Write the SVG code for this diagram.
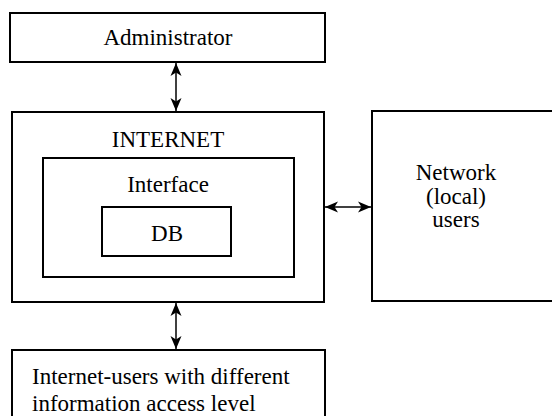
<svg xmlns="http://www.w3.org/2000/svg" width="552" height="416" viewBox="0 0 552 416">
  <style>
    .box { fill: #fff; stroke: #000; stroke-width: 2; }
    .link { stroke: #000; stroke-width: 1.5; fill: none; marker-start: url(#head); marker-end: url(#head); }
    text { font-family: 'Liberation Serif', 'Times New Roman', Times, 'DejaVu Serif', serif; font-size: 23px; fill: #000; }
  </style>
  <defs>
    <marker id="head" viewBox="0 0 13 12" refX="13" refY="6" markerWidth="13" markerHeight="12" markerUnits="userSpaceOnUse" orient="auto-start-reverse">
      <path d="M0,0.5 L13,6 L0,11.5 L3.5,6 Z" fill="#000"/>
    </marker>
  </defs>

  <rect width="552" height="416" fill="#fff"/>

  <g id="administrator">
    <rect class="box" x="10" y="13" width="315" height="49"/>
    <text x="168" y="45" text-anchor="middle">Administrator</text>
  </g>

  <g id="internet">
    <rect class="box" x="12" y="112" width="312" height="190"/>
    <text x="168" y="147" text-anchor="middle">INTERNET</text>
  </g>

  <g id="interface">
    <rect class="box" x="43" y="158" width="251" height="119"/>
    <text x="168" y="192" text-anchor="middle">Interface</text>
  </g>

  <g id="db">
    <rect class="box" x="102" y="207" width="129" height="49"/>
    <text x="167" y="241" text-anchor="middle">DB</text>
  </g>

  <g id="network-users">
    <rect class="box" x="372" y="111" width="190" height="190"/>
    <text x="456" y="180" text-anchor="middle">Network</text>
    <text x="456" y="203.5" text-anchor="middle">(local)</text>
    <text x="456" y="227" text-anchor="middle">users</text>
  </g>

  <g id="internet-users">
    <rect class="box" x="12" y="350" width="313" height="80"/>
    <text x="32" y="384">Internet-users with different</text>
    <text x="32" y="411">information access level</text>
  </g>

  <g id="connectors">
    <line class="link" x1="176" y1="63" x2="176" y2="111"/>
    <line class="link" x1="325" y1="207" x2="371" y2="207"/>
    <line class="link" x1="176" y1="303" x2="176" y2="349"/>
  </g>
</svg>
